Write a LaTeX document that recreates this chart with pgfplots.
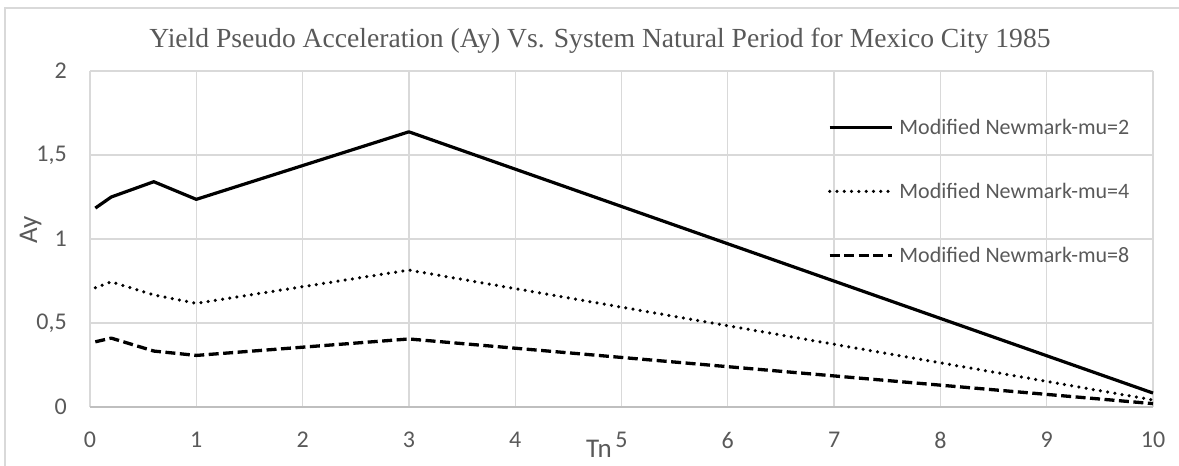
\documentclass[border=0pt]{standalone}
\usepackage{fontspec}
\setmainfont{Carlito}
\newfontfamily\titlefont{Liberation Serif}
\usepackage{pgfplots}
\pgfplotsset{compat=1.18}
\definecolor{gridc}{HTML}{D9D9D9}
\definecolor{axc}{HTML}{BFBFBF}
\definecolor{txtc}{HTML}{595959}
\begin{document}
\begin{tikzpicture}[x=1pt,y=1pt]
\useasboundingbox (0,0) rectangle (1179,466);
\draw[gridc, line width=1.3pt] (5,-10) rectangle (1190,458);
\begin{axis}[
  at={(90pt,59pt)}, anchor=south west, scale only axis,
  width=1063pt, height=336pt,
  xmin=0, xmax=10, ymin=0, ymax=2,
  xtick={0,1,2,3,4,5,6,7,8,9,10}, ytick={0,0.5,1,1.5,2},
  xticklabels={0,1,2,3,4,5,6,7,8,9,10},
  yticklabels={0,{0,5},1,{1,5},2},
  grid=major, major grid style={gridc, line width=1.3pt},
  axis line style={draw=none},
  major tick length=0pt,
  tick label style={font=\fontsize{24}{28}\selectfont, text=txtc, inner sep=0pt},
  xticklabel style={anchor=center, yshift=-33pt},
  yticklabel style={anchor=east, xshift=-23pt},
  clip=false,
  legend style={at={(0.694,0.857)}, anchor=north west, draw=none, fill=none,
    inner sep=0pt, font=\fontsize{22}{26}\selectfont, text=txtc,
    row sep=47pt, nodes={inner sep=0pt}},
  legend cell align=left,
  legend image code/.code={\draw[#1] (0pt,0pt) -- (62pt,0pt);},
  /tikz/every odd column/.append style={column sep=6pt},
]
\draw[axc, line width=2pt] (axis cs:0,0) -- (axis cs:10,0);
\addplot[black, line width=3.2pt, line join=round] coordinates {
(0.05,1.184) (0.2,1.25) (0.6,1.341) (1,1.236) (3,1.638) (10,0.083)};
\addlegendentry{Modified Newmark-mu=2}
\addplot[black, line width=3.5pt, line cap=round, line join=round, dash pattern=on 0pt off 7.3pt] coordinates {
(0.05,0.71) (0.2,0.745) (0.6,0.667) (1,0.617) (3,0.815) (10,0.042)};
\addlegendentry{Modified Newmark-mu=4}
\addplot[black, line width=3.3pt, line join=round, dash pattern=on 10pt off 4.5pt] coordinates {
(0.05,0.388) (0.2,0.41) (0.6,0.333) (1,0.307) (3,0.405) (10,0.02)};
\addlegendentry{Modified Newmark-mu=8}
\end{axis}
\node[text=txtc, font=\titlefont\fontsize{27.6}{32}\selectfont, anchor=base] at (600,418) {Yield Pseudo Acceleration (Ay) Vs. System Natural Period for Mexico City 1985};
\node[text=txtc, font=\fontsize{27}{32}\selectfont, rotate=90, anchor=base, inner sep=0pt] at (37,236) {Ay};
\node[text=txtc, font=\fontsize{27}{32}\selectfont, anchor=base, inner sep=0pt] at (599,8) {Tn};
\end{tikzpicture}
\end{document}
